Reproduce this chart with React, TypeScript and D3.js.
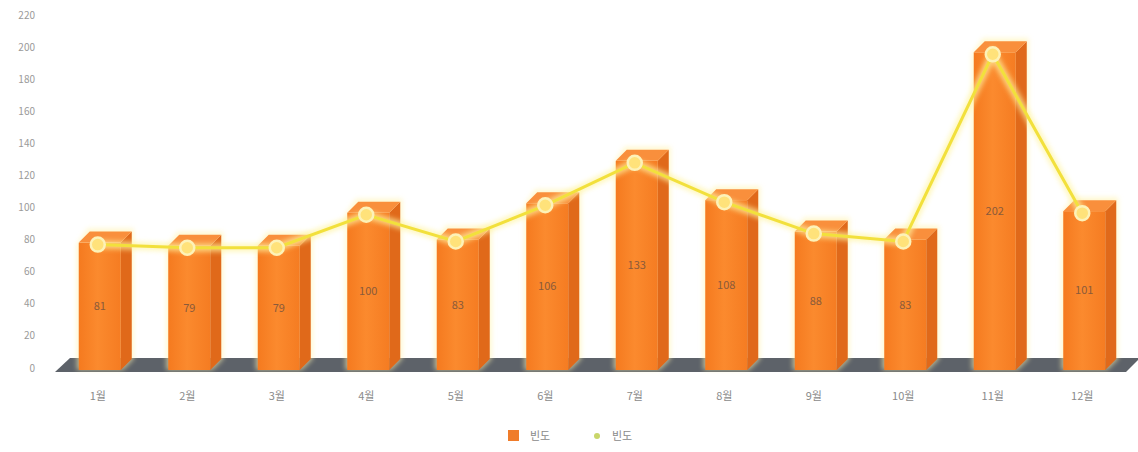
import { useEffect, useRef } from 'react';
import * as d3 from 'd3';

const months = ['1월', '2월', '3월', '4월', '5월', '6월', '7월', '8월', '9월', '10월', '11월', '12월'];
const freq = [81, 79, 79, 100, 83, 106, 133, 108, 88, 83, 202, 101];
const yTicks = [0, 20, 40, 60, 80, 100, 120, 140, 160, 180, 200, 220];
const legendItems = ['빈도', '빈도'];

export default function App() {
  const svgRef = useRef<SVGSVGElement>(null);

  useEffect(() => {
    if (!svgRef.current) return;
    const svg = d3.select(svgRef.current);
    svg.selectAll('*').remove();

    const width = 1138;
    const height = 452;
    svg.attr('viewBox', `0 0 ${width} ${height}`);

    const font = '"Noto Sans CJK KR", "Noto Sans", sans-serif';

    // Scales: axis sits on the back wall, bars on the front plane
    const x = d3.scaleBand<string>().domain(months).range([55, 1129]).padding(0);
    const yAxisScale = d3.scaleLinear().domain([0, 220]).range([368, 15]);
    const y = d3.scaleLinear().domain([0, 220]).range([370, 24]);

    const barW = 42;
    const dx = 11;
    const dy = 11;
    const cx = (m: string) => (x(m) as number) + x.bandwidth() / 2;

    const defs = svg.append('defs');
    const frontGrad = defs.append('linearGradient').attr('id', 'front').attr('x1', 0).attr('x2', 1);
    frontGrad.append('stop').attr('offset', '0%').attr('stop-color', '#f57a1f');
    frontGrad.append('stop').attr('offset', '45%').attr('stop-color', '#fb8a2e');
    frontGrad.append('stop').attr('offset', '100%').attr('stop-color', '#f57c22');

    const glow = defs.append('filter').attr('id', 'glow').attr('x', '-20%').attr('y', '-20%').attr('width', '140%').attr('height', '140%');
    glow.append('feGaussianBlur').attr('stdDeviation', 2.5);

    // Y-axis labels
    svg.append('g')
      .selectAll('text')
      .data(yTicks)
      .enter()
      .append('text')
      .attr('x', 35)
      .attr('y', d => yAxisScale(d))
      .attr('dy', '0.35em')
      .attr('text-anchor', 'end')
      .style('font-family', font)
      .style('font-size', '10px')
      .style('fill', '#9a9a9a')
      .text(d => d);

    // Floor
    const floorTop = 358;
    const floorBottom = 372;
    svg.append('path')
      .attr('d', `M55,${floorBottom} L1126,${floorBottom} L1140,${floorTop} L70,${floorTop} Z`)
      .attr('fill', '#5d6269');

    // Bars
    const bars = svg.append('g')
      .selectAll('g')
      .data(months)
      .enter()
      .append('g');

    bars.append('path')
      .attr('d', (m, i) => {
        const c = cx(m);
        const t = y(freq[i]);
        return `M${c - barW / 2 - 2},${t + 2} L${c - barW / 2 + dx - 2},${t - dy - 3} L${c + barW / 2 + dx + 2},${t - dy - 3} L${c + barW / 2 + dx + 2},${y(0) - dy} L${c + barW / 2 + 2},${y(0)} L${c - barW / 2 - 2},${y(0)} Z`;
      })
      .attr('fill', '#fff3b0')
      .attr('opacity', 0.6)
      .attr('filter', 'url(#glow)');

    bars.append('rect')
      .attr('x', m => cx(m) - barW / 2)
      .attr('y', (m, i) => y(freq[i]))
      .attr('width', barW)
      .attr('height', (m, i) => y(0) - y(freq[i]))
      .attr('fill', 'url(#front)');

    bars.append('path')
      .attr('d', (m, i) => {
        const c = cx(m);
        const t = y(freq[i]);
        return `M${c + barW / 2},${t} L${c + barW / 2 + dx},${t - dy} L${c + barW / 2 + dx},${y(0) - dy} L${c + barW / 2},${y(0)} Z`;
      })
      .attr('fill', '#e0691a');

    bars.append('path')
      .attr('d', (m, i) => {
        const c = cx(m);
        const t = y(freq[i]);
        return `M${c - barW / 2},${t} L${c - barW / 2 + dx},${t - dy} L${c + barW / 2 + dx},${t - dy} L${c + barW / 2},${t} Z`;
      })
      .attr('fill', '#f98f3c');

    bars.append('text')
      .attr('x', m => cx(m))
      .attr('y', (m, i) => (y(freq[i]) + y(0)) / 2)
      .attr('dy', '0.35em')
      .attr('text-anchor', 'middle')
      .style('font-family', font)
      .style('font-size', '11px')
      .style('fill', '#8a5a3a')
      .text((m, i) => freq[i]);

    // Line
    const line = d3.line<number>()
      .x((d, i) => cx(months[i]) - 2)
      .y(d => y(d) + 2);

    svg.append('path')
      .datum(freq)
      .attr('d', line)
      .attr('fill', 'none')
      .attr('stroke', '#fff4a0')
      .attr('stroke-width', 8)
      .attr('opacity', 0.7)
      .attr('filter', 'url(#glow)');

    svg.append('path')
      .datum(freq)
      .attr('d', line)
      .attr('fill', 'none')
      .attr('stroke', '#f2e03c')
      .attr('stroke-width', 3);

    svg.append('g')
      .selectAll('circle')
      .data(freq)
      .enter()
      .append('circle')
      .attr('cx', (d, i) => cx(months[i]) - 2)
      .attr('cy', d => y(d) + 2)
      .attr('r', 7)
      .attr('fill', '#ffe27a')
      .attr('stroke', '#fdf2b8')
      .attr('stroke-width', 2.5);

    // X-axis labels
    svg.append('g')
      .selectAll('text')
      .data(months)
      .enter()
      .append('text')
      .attr('x', m => cx(m) - 2)
      .attr('y', 396)
      .attr('dy', '0.35em')
      .attr('text-anchor', 'middle')
      .style('font-family', font)
      .style('font-size', '11px')
      .style('fill', '#8a8a8a')
      .text(m => m);

    // Legend
    const legend = svg.append('g').attr('transform', 'translate(508, 436)');
    legend.append('rect')
      .attr('x', 0)
      .attr('y', -6)
      .attr('width', 11)
      .attr('height', 11)
      .attr('fill', '#f07c2a');
    legend.append('text')
      .attr('x', 22)
      .attr('y', 0)
      .attr('dy', '0.35em')
      .style('font-family', font)
      .style('font-size', '11px')
      .style('fill', '#8a8a8a')
      .text(legendItems[0]);
    legend.append('circle')
      .attr('cx', 89)
      .attr('cy', 0)
      .attr('r', 3)
      .attr('fill', '#c9d66a');
    legend.append('text')
      .attr('x', 104)
      .attr('y', 0)
      .attr('dy', '0.35em')
      .style('font-family', font)
      .style('font-size', '11px')
      .style('fill', '#8a8a8a')
      .text(legendItems[1]);
  }, []);

  return (
    <svg
      ref={svgRef}
      width={1138}
      height={452}
      style={{ position: 'absolute', left: 0, top: 0, background: '#fff' }}
    />
  );
}
